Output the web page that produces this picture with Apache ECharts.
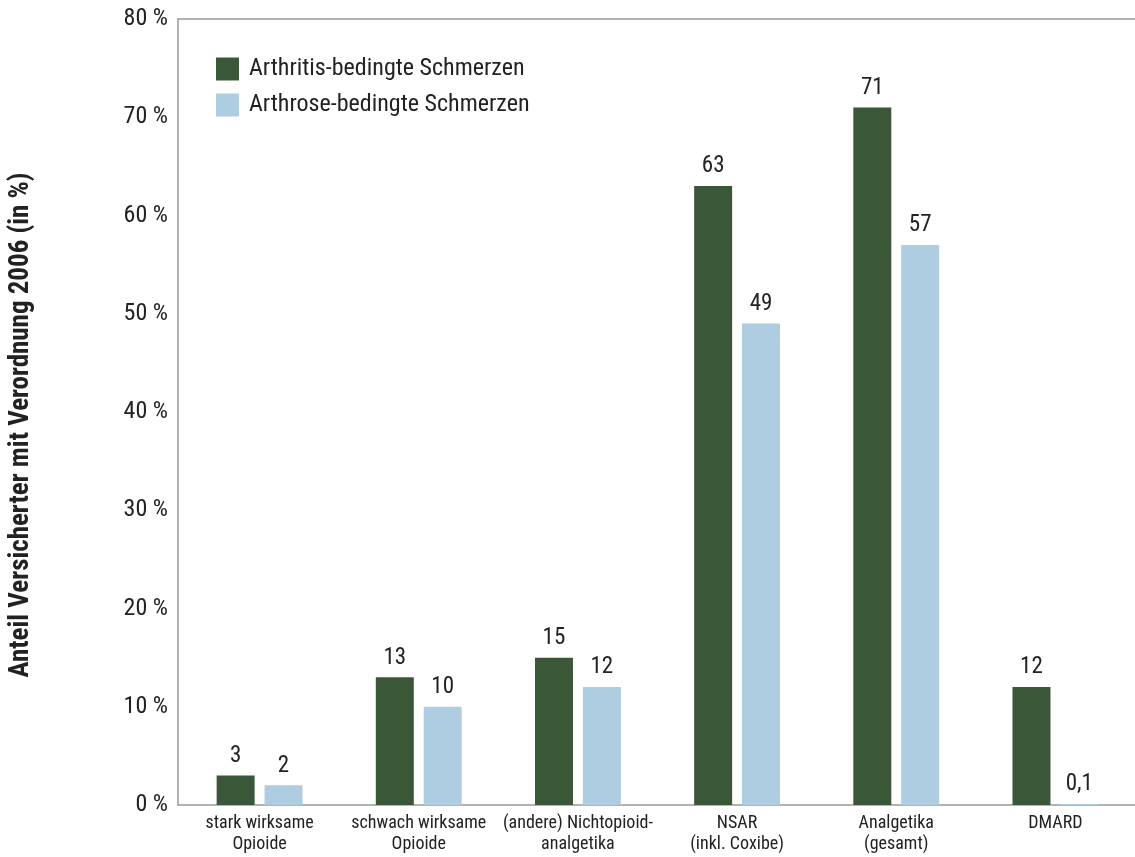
<!DOCTYPE html>
<html>
<head>
<meta charset="utf-8">
<script src="https://cdn.jsdelivr.net/npm/echarts@6/dist/echarts.min.js"></script>
<style>
html,body{margin:0;padding:0;background:#fff;}
#chart{width:1135px;height:857px;}
</style>
</head>
<body>
<div id="chart"></div>
<script>
const categories = ['stark wirksame\nOpioide', 'schwach wirksame\nOpioide', '(andere) Nichtopioid-\nanalgetika', 'NSAR\n(inkl. Coxibe)', 'Analgetika\n(gesamt)', 'DMARD'];
const arthritis = [3, 13, 15, 63, 71, 12];
const arthrose = [2, 10, 12, 49, 57, 0.1];
const yTicks = [0, 10, 20, 30, 40, 50, 60, 70, 80];
const seriesNames = ['Arthritis-bedingte Schmerzen', 'Arthrose-bedingte Schmerzen'];

const FONT = "'Roboto Condensed', sans-serif";
const GREEN = '#3a5838';
const BLUE = '#aecde0';
const AXIS = '#9a9a9a';
const TEXT = '#222';

// Value labels use a decimal comma
const fmtValue = p => String(p.value).replace('.', ',');

const chart = echarts.init(document.getElementById('chart'));
chart.setOption({
  animation: false,
  textStyle: { fontFamily: FONT, color: TEXT },
  legend: {
    orient: 'vertical', left: 216, top: 57, itemWidth: 23, itemHeight: 23, itemGap: 12,
    padding: 0, icon: 'rect',
    textStyle: { fontSize: 24, color: TEXT, padding: [0, 0, 0, 5] },
    data: seriesNames
  },
  grid: [
    // frame grid: left axis, top and bottom border lines
    { left: 176, top: 19, width: 970, height: 786 },
    // plotting grid for the bar groups
    { left: 180, top: 19, width: 960, height: 786 }
  ],
  xAxis: [
    { gridIndex: 0, type: 'category', data: categories, position: 'bottom',
      axisLine: { lineStyle: { color: AXIS, width: 1.5 } }, axisTick: { show: false }, axisLabel: { show: false } },
    { gridIndex: 0, type: 'category', data: categories, position: 'top',
      axisLine: { lineStyle: { color: AXIS, width: 1.5 } }, axisTick: { show: false }, axisLabel: { show: false } },
    { gridIndex: 1, type: 'category', data: categories,
      axisLine: { show: false }, axisTick: { show: false },
      axisLabel: { interval: 0, fontSize: 18, color: TEXT, lineHeight: 21, margin: 8 } }
  ],
  yAxis: [
    { gridIndex: 0, type: 'value', min: yTicks[0], max: yTicks[yTicks.length - 1], interval: 10,
      axisLine: { show: true, lineStyle: { color: AXIS, width: 1.5 } }, axisTick: { show: false }, splitLine: { show: false },
      axisLabel: { formatter: '{value} %', fontSize: 24, color: TEXT, margin: 10 },
      name: 'Anteil Versicherter mit Verordnung 2006 (in %)', nameLocation: 'middle', nameRotate: 90, nameGap: 143,
      nameTextStyle: { fontSize: 27, fontWeight: 'bold', color: TEXT, padding: [0, 26, 0, 0] } },
    { gridIndex: 1, type: 'value', min: yTicks[0], max: yTicks[yTicks.length - 1], interval: 10, show: false }
  ],
  series: [
    { name: seriesNames[0], type: 'bar', xAxisIndex: 2, yAxisIndex: 1, data: arthritis,
      barWidth: 38, barGap: '26%', itemStyle: { color: GREEN },
      label: { show: true, position: 'top', distance: 8, fontSize: 23, color: TEXT, formatter: fmtValue } },
    { name: seriesNames[1], type: 'bar', xAxisIndex: 2, yAxisIndex: 1, data: arthrose,
      barWidth: 38, barGap: '26%', itemStyle: { color: BLUE },
      label: { show: true, position: 'top', distance: 8, fontSize: 23, color: TEXT, formatter: fmtValue } }
  ]
});
</script>
</body>
</html>
